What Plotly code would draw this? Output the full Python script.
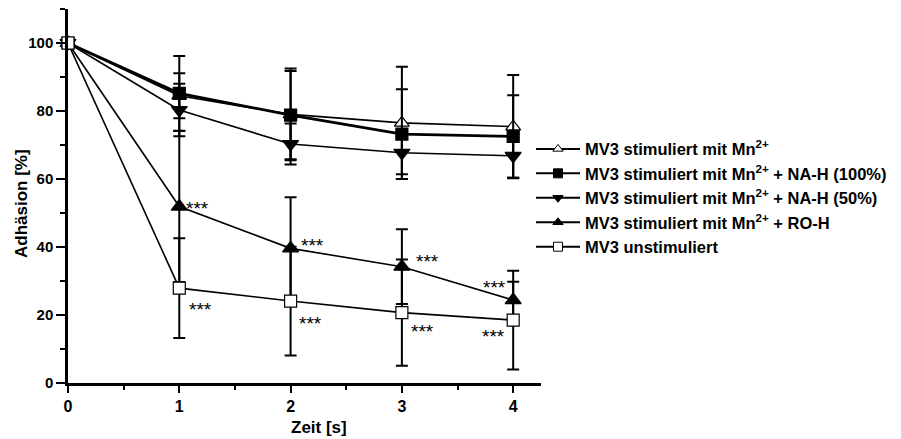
import plotly.graph_objects as go

# ---- data ----
zeit = [0, 1, 2, 3, 4]

names = [
    "MV3 stimuliert mit Mn<sup>2+</sup>",
    "MV3 stimuliert mit Mn<sup>2+</sup> + NA-H (100%)",
    "MV3 stimuliert mit Mn<sup>2+</sup> + NA-H (50%)",
    "MV3 stimuliert mit Mn<sup>2+</sup> + RO-H",
    "MV3 unstimuliert",
]

mn_stim = [100, 84.5, 79.0, 76.5, 75.4]
mn_stim_err = [0, 6.6, 13.5, 16.5, 15.2]

na_h_100 = [100, 85.2, 78.8, 73.2, 72.5]
na_h_100_err = [0, 11.0, 13.0, 13.2, 12.1]

na_h_50 = [100, 80.3, 70.3, 67.7, 66.8]
na_h_50_err = [0, 7.7, 6.0, 6.3, 6.4]

ro_h = [100, 51.9, 39.6, 34.2, 24.4]
ro_h_err = [0, 22.2, 15.0, 11.0, 5.4]

unstim = [100, 27.9, 24.1, 20.7, 18.5]
unstim_err = [0, 14.7, 16.0, 15.6, 14.5]

# significance labels
sig_x = [1.04, 1.07, 2.08, 2.06, 3.11, 3.06, 3.95, 3.94]
sig_y = [53.0, 23.2, 41.9, 19.0, 37.2, 16.8, 29.8, 15.4]
sig_text = ["***"] * 8
sig_anchor = ["left", "left", "left", "left", "left", "left", "right", "right"]

series = [
    (mn_stim, mn_stim_err, "triangle-up-open", 13, 1.6),
    (na_h_100, na_h_100_err, "square", 12, 2.8),
    (na_h_50, na_h_50_err, "triangle-down", 14, 1.6),
    (ro_h, ro_h_err, "triangle-up", 14, 1.6),
    (unstim, unstim_err, "square-open", 12, 1.6),
]

FONT = "Liberation Sans, Arial, Helvetica, sans-serif"

fig = go.Figure()

for (vals, errs, sym, size, lw), nm in zip(series, names):
    open_sym = sym.endswith("open")
    fig.add_trace(go.Scatter(
        x=zeit, y=vals, mode="lines+markers", showlegend=False,
        cliponaxis=False,
        line=dict(color="black", width=lw),
        marker=dict(symbol=sym.replace("-open", ""), size=size,
                    color="white" if open_sym else "black",
                    line=dict(color="black", width=1.2)),
        error_y=dict(type="data", array=errs, visible=True,
                     color="black", thickness=2, width=6),
    ))

# legend-only traces (smaller markers)
for (vals, errs, sym, size, lw), nm in zip(series, names):
    open_sym = sym.endswith("open")
    fig.add_trace(go.Scatter(
        x=[None], y=[None], mode="lines+markers", name=nm,
        line=dict(color="black", width=2),
        marker=dict(symbol=sym.replace("-open", ""), size=9,
                    color="white" if open_sym else "black",
                    line=dict(color="black", width=1)),
    ))

for x, y, t, a in zip(sig_x, sig_y, sig_text, sig_anchor):
    fig.add_annotation(x=x, y=y - 1.6, text=t, showarrow=False, xanchor=a,
                       yanchor="middle", font=dict(size=19, color="black"))

fig.update_layout(
    width=901, height=439,
    margin=dict(l=68, r=360, t=9, b=56, autoexpand=False),
    paper_bgcolor="white", plot_bgcolor="white",
    font=dict(family=FONT, color="black", size=15),
    legend=dict(x=(531 - 68) / 473, xanchor="left", y=0.672, yanchor="top",
                xref="paper", yref="paper",
                font=dict(size=16.5, weight="bold", family=FONT),
                itemwidth=44, tracegroupgap=0,
                bgcolor="rgba(0,0,0,0)"),
    xaxis=dict(range=[0, 4.25], showline=True, linewidth=2.5, linecolor="black",
               showgrid=False, zeroline=False, ticks="outside", ticklen=7,
               tickwidth=2, tickcolor="black", dtick=1, tick0=0,
               tickfont=dict(size=16, weight="bold", family=FONT),
               minor=dict(dtick=0.5, ticks="outside", ticklen=4, tickwidth=2,
                          tickcolor="black", showgrid=False)),
    yaxis=dict(range=[0, 110], showline=True, linewidth=2.5, linecolor="black",
               showgrid=False, zeroline=False, ticks="outside", ticklen=9,
               tickwidth=2, tickcolor="black", dtick=20, tick0=0,
               tickfont=dict(size=15, weight="bold", family=FONT),
               minor=dict(dtick=10, ticks="outside", ticklen=5, tickwidth=2,
                          tickcolor="black", showgrid=False)),
)

fig.add_annotation(x=(318.7 - 68) / 473, y=-(427 - 383) / 374, xref="paper",
                   yref="paper", text="Zeit [s]", showarrow=False,
                   xanchor="center", yanchor="middle",
                   font=dict(size=17, weight="bold", family=FONT))
fig.add_annotation(x=-(68 - 21) / 473, y=(383 - 204) / 374, xref="paper",
                   yref="paper", text="Adhäsion [%]", showarrow=False,
                   textangle=-90, xanchor="center", yanchor="middle",
                   font=dict(size=17, weight="bold", family=FONT))

fig.write_html("out.html")
